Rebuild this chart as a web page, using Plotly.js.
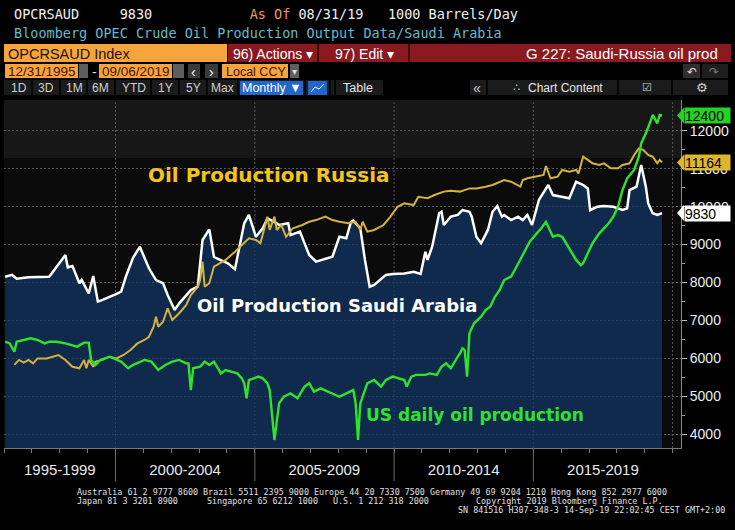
<!DOCTYPE html>
<html><head><meta charset="utf-8">
<script src="https://cdn.plot.ly/plotly-3.0.1.min.js"></script>
<style>html,body{margin:0;padding:0;background:#000;}#chart{width:735px;height:530px;}</style>
</head><body><div id="chart"></div>
<script>
// ---------------- DATA (1000 barrels/day, monthly) ----------------
const saudiDates = ['1996-01','1996-04','1996-06','1996-11','1997-08','1998-03','1998-04','1998-06','1998-09','1998-10','1999-01','1999-03','1999-05','1999-07','2000-01','2000-03','2000-05','2000-08','2000-11','2001-03','2001-06','2001-09','2001-11','2002-02','2002-04','2002-09','2002-12','2003-02','2003-05','2003-07','2003-08','2004-01','2004-04','2004-08','2004-10','2005-01','2005-04','2005-06','2005-09','2005-11','2006-03','2006-04','2006-08','2006-12','2007-03','2007-08','2007-10','2008-01','2008-04','2008-06','2008-07','2008-10','2008-12','2009-02','2009-04','2009-09','2009-12','2010-05','2010-09','2010-12','2011-02','2011-03','2011-05','2011-08','2011-09','2011-10','2012-01','2012-04','2012-06','2012-09','2012-10','2012-12','2013-02','2013-05','2013-07','2013-09','2013-11','2013-12','2014-03','2014-06','2014-08','2014-10','2014-12','2015-03','2015-07','2015-09','2015-12','2016-04','2016-07','2016-10','2016-12','2017-01','2017-04','2017-07','2017-11','2018-03','2018-05','2018-06','2018-09','2018-11','2019-01','2019-02','2019-04','2019-06','2019-08'];
const saudiValues = [8150,8200,8100,8140,8150,8725,8400,8435,7980,8070,7715,8170,7495,7540,7700,7760,8150,8640,8940,8375,8065,7980,7670,7275,7450,7800,7890,9120,9400,8680,8640,8505,8350,9560,9780,9205,9430,9690,9600,9515,9560,9250,9340,8725,8550,8640,8680,9205,9165,9600,9630,9430,8595,7890,7935,8200,8225,8240,8285,8225,8810,8595,8945,9825,9865,9515,9735,9780,9910,9865,9735,9205,9035,9385,9865,10015,9735,9780,9645,9735,9645,9780,9515,10175,10570,10305,10260,10220,10655,10570,10480,9910,9995,10015,9995,9910,9955,10435,10525,11095,10525,10085,9825,9780,9830];

const russiaDates = ['1996-05','1996-07','1996-09','1996-11','1997-01','1997-03','1997-07','1997-12','1998-03','1998-06','1998-09','1998-11','1998-12','1999-01','1999-03','1999-04','1999-07','1999-10','2000-01','2000-04','2000-07','2000-10','2001-01','2001-03','2001-05','2001-06','2001-07','2001-09','2001-11','2002-01','2002-04','2002-07','2002-09','2002-12','2003-01','2003-02','2003-03','2003-05','2003-07','2003-12','2004-04','2004-08','2004-10','2005-01','2005-03','2005-06','2005-07','2005-09','2005-10','2005-12','2006-02','2006-05','2006-09','2006-12','2007-03','2007-07','2007-10','2008-01','2008-05','2008-08','2008-10','2008-11','2009-01','2009-04','2009-08','2009-11','2010-02','2010-05','2010-09','2010-11','2011-03','2011-06','2011-10','2012-01','2012-05','2012-09','2012-12','2013-04','2013-07','2013-12','2014-03','2014-07','2014-08','2014-10','2015-02','2015-05','2015-06','2015-08','2015-11','2016-01','2016-04','2016-07','2016-08','2016-10','2016-12','2017-02','2017-05','2017-07','2017-10','2018-01','2018-03','2018-06','2018-08','2018-10','2018-12','2019-02','2019-04','2019-06','2019-07','2019-08'];
const russiaValues = [5830,5960,5890,5960,5870,6000,6000,6090,5960,5780,5740,5960,5740,5960,5780,5915,5960,6045,6000,6090,6220,6395,6485,6570,6835,7100,6835,6965,7320,7010,7190,7405,7670,7890,8065,8550,7890,7980,8420,8595,8810,9035,9165,9120,9035,9735,9385,9735,9385,9515,9205,9430,9515,9600,9645,9735,9645,9600,9560,9600,9385,9600,9340,9385,9515,9735,9995,10085,10040,10260,10220,10305,10395,10420,10395,10480,10480,10525,10570,10700,10655,10525,10700,10745,10790,10835,11070,10745,10790,10965,10920,10965,10875,11315,11230,11140,11095,11140,11010,11010,11095,11140,11360,11535,11490,11360,11315,11140,11230,11164];

const usDates = ['1996-01','1996-03','1996-05','1996-06','1996-09','1996-12','1997-03','1997-06','1997-08','1997-11','1998-03','1998-06','1998-08','1998-11','1999-01','1999-02','1999-04','1999-06','1999-10','2000-03','2000-06','2000-08','2000-11','2001-01','2001-04','2001-07','2001-10','2002-01','2002-04','2002-07','2002-08','2002-09','2002-10','2003-01','2003-03','2003-05','2003-07','2003-10','2003-12','2004-02','2004-05','2004-07','2004-08','2004-09','2004-10','2005-02','2005-04','2005-06','2005-07','2005-09','2005-11','2006-01','2006-04','2006-07','2006-10','2006-12','2007-02','2007-05','2007-08','2007-10','2008-01','2008-04','2008-07','2008-08','2008-09','2008-10','2009-01','2009-04','2009-07','2009-09','2009-12','2010-05','2010-06','2010-08','2010-10','2011-02','2011-04','2011-07','2011-09','2011-11','2012-01','2012-04','2012-05','2012-06','2012-07','2012-08','2012-09','2012-11','2013-02','2013-04','2013-06','2013-08','2013-10','2013-12','2014-03','2014-05','2014-07','2014-09','2014-11','2015-02','2015-04','2015-06','2015-07','2015-09','2015-11','2016-01','2016-04','2016-07','2016-09','2016-10','2016-12','2017-02','2017-05','2017-07','2017-09','2017-11','2018-01','2018-03','2018-05','2018-08','2018-10','2018-11','2019-01','2019-03','2019-04','2019-06','2019-07','2019-08'];
const usValues = [6440,6395,6175,6440,6485,6530,6485,6395,6440,6440,6395,6355,6310,6415,6415,5960,5825,5960,6045,5915,5740,5825,5915,5960,5915,5695,5825,5915,5960,5870,5870,5165,5740,5780,5915,5825,5915,5605,5695,5650,5605,5475,5345,4950,5430,5520,5475,5345,5165,3850,4815,4990,5080,4950,5255,5345,5125,5210,5125,5080,4990,5080,5165,4815,3850,4815,5345,5430,5255,5430,5520,5430,5255,5520,5565,5565,5605,5565,5780,5870,5740,6045,6135,6265,6220,5520,6660,6925,7100,7275,7365,7625,7800,8065,8155,8375,8595,8855,9075,9295,9430,9600,9470,9205,9250,9205,8900,8595,8460,8505,8770,9035,9295,9430,9560,9735,9995,10435,10745,10965,11315,11665,11930,12235,12415,12195,12415,12400];

const periodTicks = ['1998-01-01','2002-07-01','2007-07-01','2012-07-01','2017-07-01'];
const periodLabels = ['1995-1999','2000-2004','2005-2009','2010-2014','2015-2019'];
const periodBreaks = ['2000-01-01','2005-01-01','2010-01-01','2015-01-01'];
const gridBreaks = ['2000-01-01','2005-01-01','2010-01-01','2015-01-01','2020-01-01'];
const rangeButtons = ['1D','3D','1M','6M','YTD','1Y','5Y','Max'];

// ---------------- helpers ----------------
const mid = s => s + '-15';
const X_RANGE = ['1995-12-31','2020-04-20'];
const Y_RANGE = [3639, 12809];
const L = 4, T = 100, PW = 677, PH = 348;
const px = x => (x - L) / PW;
const py = y => (T + PH - y) / PH;
const t0 = Date.parse(X_RANGE[0]), t1 = Date.parse(X_RANGE[1]);
const xp = d => (Date.parse(d) - t0) / (t1 - t0);
const yp = v => (v - Y_RANGE[0]) / (Y_RANGE[1] - Y_RANGE[0]);
const nb = s => s.replace(/ /g, '\u00a0');

const MONO = "'DejaVu Sans Mono', 'Liberation Mono', monospace";
const SANS = "'Liberation Sans', Arial, sans-serif";
const BOLD = "'DejaVu Sans', Verdana, sans-serif";

const RUS_LINE = '#d4b23c', SAU_LINE = '#ffffff', US_LINE = '#2fe22a';

// ---------------- traces ----------------
const traces = [
  {x: saudiDates.map(mid), y: saudiValues, type:'scatter', mode:'lines', fill:'tozeroy',
   fillcolor:'rgba(18,54,103,0.72)', line:{color:SAU_LINE, width:2.5}, hoverinfo:'skip'},
  {x: russiaDates.map(mid), y: russiaValues, type:'scatter', mode:'lines',
   line:{color:RUS_LINE, width:2}, hoverinfo:'skip'},
  {x: usDates.map(mid), y: usValues, type:'scatter', mode:'lines',
   line:{color:US_LINE, width:2.4}, hoverinfo:'skip'}
];

// ---------------- shapes ----------------
const shapes = [];
const rect = (x0,y0,x1,y1,color,layer) => shapes.push({type:'rect', xref:'paper', yref:'paper',
  x0:px(x0), x1:px(x1), y0:py(y1), y1:py(y0), fillcolor:color, line:{width:0}, layer:layer||'above'});
const vline = (x,y0,y1,color,w) => shapes.push({type:'line', xref:'paper', yref:'paper',
  x0:px(x), x1:px(x), y0:py(y0), y1:py(y1), line:{color:color, width:w||1}, layer:'above'});

// top band of plot background
shapes.push({type:'rect', xref:'paper', yref:'paper', x0:0, x1:1, y0:yp(11280), y1:1,
  fillcolor:'#171717', line:{width:0}, layer:'below'});
// vertical dotted grid
gridBreaks.forEach(d => shapes.push({type:'line', xref:'paper', yref:'paper', x0:xp(d), x1:xp(d), y0:0, y1:1,
  line:{color:'#585858', width:1, dash:'2px,2px'}, layer:'below'}));
// period separators below the axis
periodBreaks.forEach(d => shapes.push({type:'line', xref:'paper', yref:'paper', x0:xp(d), x1:xp(d), y0:0, y1:py(481),
  line:{color:'#6a6a6a', width:1}, layer:'above'}));

// header row 3
rect(4,44,227,62,'#f6a53c');
rect(228,44,731,62,'#8a1a20');
vline(318,44,62,'#2a0000',1.5);
vline(409,44,62,'#2a0000',1.5);
// header row 4
rect(5,64,78,78,'#f6a53c');
rect(79,64,88,78,'#5e5e5e');
rect(99,64,172,78,'#f6a53c');
rect(173,64,184,78,'#5e5e5e');
rect(188,64,200,78,'#3a3a3a');
rect(205,64,218,78,'#3a3a3a');
rect(222,64,288,78,'#f6a53c');
rect(290,64,299,78,'#5e5e5e');
rect(683,64,700,78,'#2e2e2e');
rect(702,64,728,78,'#1e1e1e');
// header row 5 (button strips)
rect(4,80,383,95,'#1b1b1b');
rect(470,80,728,95,'#1b1b1b');
[32,60,87,115,151,179,207,238,305,330,335].forEach(x => vline(x,80,95,'#000000',1.5));
[487,618,672].forEach(x => vline(x,80,95,'#000000',1.5));
rect(240,81,303,95,'#2166c8');
rect(308,81,327,95,'#2166c8');
shapes.push({type:'path', xref:'paper', yref:'paper', line:{color:'#ffffff', width:1},
  path:`M ${px(311)},${py(92)} L ${px(315)},${py(87)} L ${px(319)},${py(89)} L ${px(324)},${py(84)}`});

// ---------------- annotations ----------------
const ann = [];
const txt = (text,x,y,size,color,family,xa,extra) => ann.push(Object.assign({text:text, xref:'paper', yref:'paper',
  x:px(x), y:py(y), xanchor:xa||'left', yanchor:'middle', showarrow:false,
  font:{family:family, size:size, color:color}}, extra||{}));

txt(nb('OPCRSAUD     9830            ') + '<span style="color:#e99a5c">As\u00a0Of</span>' + nb(' 08/31/19   1000 Barrels/Day'), 12, 14, 13.5, '#f0f0f0', MONO);
txt(nb('Bloomberg OPEC Crude Oil Production Output Data/Saudi Arabia'), 12, 33, 13.5, '#63bccc', MONO);
txt('OPCRSAUD Index', 6, 53.5, 14.5, '#1c1206', SANS);
txt('96) Actions \u25BE', 273, 53.5, 14, '#ffffff', SANS, 'center');
txt('97) Edit \u25BE', 364, 53.5, 14, '#ffffff', SANS, 'center');
txt('G 227: Saudi-Russia oil prod', 720, 53.5, 15, '#ffffff', SANS, 'right');
txt('12/31/1995', 6, 71.5, 13.5, '#4a1000', SANS);
txt('-', 94, 71.5, 14, '#dddddd', SANS, 'center');
txt('09/06/2019', 100, 71.5, 13.5, '#4a1000', SANS);
txt('\u2039', 194, 71.5, 14, '#ffffff', SANS, 'center');
txt('\u203A', 211.5, 71.5, 14, '#ffffff', SANS, 'center');
txt('Local CCY', 224, 71.5, 12.5, '#4a1000', SANS);
txt('\u25BE', 294.5, 71.5, 10, '#dddddd', SANS, 'center');
txt('\u21B6', 691.5, 71.5, 12, '#dddddd', BOLD, 'center');
txt('\u21B7', 714, 71.5, 12, '#777777', BOLD, 'center');
const btnX = [19,46,74,100,134,165,193,223];
rangeButtons.forEach((t,i) => txt(t, btnX[i], 88, 12, '#cfcfcf', SANS, 'center'));
txt('Monthly \u25BC', 271.5, 88, 12.5, '#ffffff', SANS, 'center');
txt('Table', 358, 88, 12.5, '#e6e6e6', SANS, 'center');
txt('\u00AB', 477, 88, 14, '#cfcfcf', SANS, 'center');
txt('\u2234', 516, 88, 11, '#cfcfcf', BOLD, 'center');
txt('Chart Content', 526, 88, 12, '#e6e6e6', SANS);
txt('\u2611', 647, 88, 11, '#cfcfcf', BOLD, 'center');
txt('\u2699', 702, 88, 13, '#cfcfcf', BOLD, 'center');

// in-plot labels
txt('<b>Oil Production Russia</b>', 269, 175, 20, '#f3c41c', BOLD, 'center');
txt('<b>Oil Production Saudi Arabia</b>', 336.5, 305, 18, '#ffffff', BOLD, 'center');
txt('<b>US daily oil production</b>', 474.5, 415, 17, '#2ee22e', BOLD, 'center');

// footer
txt(nb('Australia 61 2 9777 8600 Brazil 5511 2395 9000 Europe 44 20 7330 7500 Germany 49 69 9204 1210 Hong Kong 852 2977 6000'), 75, 492, 8.4, '#e0e0e0', MONO);
txt(nb('Japan 81 3 3201 8900'), 75, 501, 8.4, '#e0e0e0', MONO);
txt(nb('Singapore 65 6212 1000'), 205, 501, 8.4, '#e0e0e0', MONO);
txt(nb('U.S. 1 212 318 2000'), 331, 501, 8.4, '#e0e0e0', MONO);
txt(nb('Copyright 2019 Bloomberg Finance L.P.'), 474, 501, 8.4, '#e0e0e0', MONO);
txt(nb('SN 841516 H307-348-3 14-Sep-19 22:02:45 CEST GMT+2:00'), 727, 510, 8.4, '#e0e0e0', MONO, 'right');

// last-value tags on the right axis
[[usValues, '#22d41f'], [russiaValues, '#e0b52e'], [saudiValues, '#ffffff']].forEach(([vals, col]) => {
  const v = vals[vals.length - 1];
  const yc = yp(v);
  const half = 8 / PH;
  shapes.push({type:'path', xref:'paper', yref:'paper', fillcolor:col, line:{width:0}, layer:'above',
    path:`M ${px(677)},${yc} L ${px(684)},${yc + half} L ${px(684)},${yc - half} Z`});
  ann.push({text:String(v), xref:'paper', yref:'paper', x:px(684), y:yc, xanchor:'left', yanchor:'middle',
    showarrow:false, bgcolor:col, width:45, height:15, align:'left', borderpad:0,
    font:{family:SANS, size:14, color:'#000000'}});
});

// ---------------- layout ----------------
const layout = {
  width:735, height:530, margin:{l:L, r:54, t:T, b:82},
  paper_bgcolor:'#000000', plot_bgcolor:'#0b0b0b', showlegend:false,
  xaxis:{type:'date', range:X_RANGE, tickmode:'array', tickvals:periodTicks, ticktext:periodLabels,
    ticks:'', showgrid:false, zeroline:false, showline:true, linecolor:'#777', linewidth:1,
    tickfont:{family:SANS, size:15, color:'#e8e8e8'}, ticklabelstandoff:8, fixedrange:true,
    minor:{dtick:'M12', tick0:'1996-01-01', ticks:'outside', ticklen:4, tickcolor:'#777', showgrid:false}},
  yaxis:{side:'right', range:Y_RANGE, tick0:0, dtick:1000, tickformat:'d', ticks:'outside', ticklen:5,
    tickcolor:'#bbbbbb', tickfont:{family:SANS, size:14, color:'#eeeeee'}, showgrid:true,
    gridcolor:'#575757', griddash:'2px,2px', gridwidth:1, zeroline:false, showline:true, linecolor:'#888',
    fixedrange:true, minor:{dtick:500, ticks:'outside', ticklen:3, tickcolor:'#999', showgrid:false}},
  shapes:shapes, annotations:ann
};

Plotly.newPlot('chart', traces, layout, {staticPlot:true, displayModeBar:false});
</script>
</body></html>
